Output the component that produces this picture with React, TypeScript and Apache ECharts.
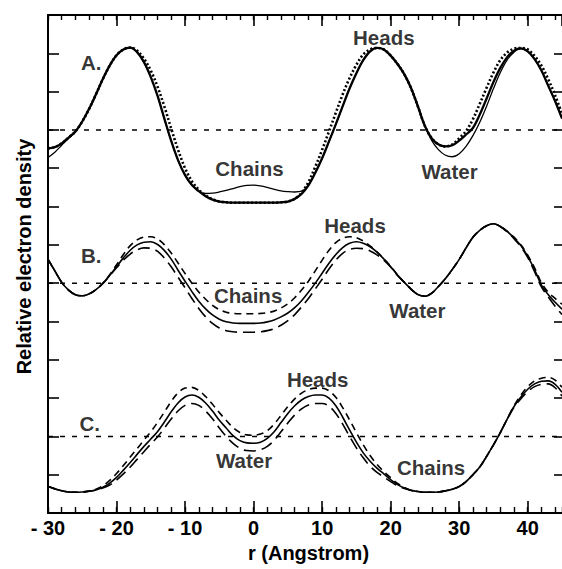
import React, { useEffect, useRef } from 'react';
import * as echarts from 'echarts';

// r sampling (Angstrom)
const R = [-30,-29,-28,-27,-26,-25,-24,-23,-22,-21,-20,-19,-18,-17,-16,-15,-14,-13,-12,-11,-10,-9,-8,-7,-6,-5,-4,-3,-2,-1,0,1,2,3,4,5,6,7,8,9,10,11,12,13,14,15,16,17,18,19,20,21,22,23,24,25,26,27,28,29,30,31,32,33,34,35,36,37,38,39,40,41,42,43,44,45];

// Panel A (baseline 10)
const A_BOLD = [9.52,9.55,9.65,9.8,9.96,10.22,10.55,10.93,11.33,11.68,11.95,12.1,12.15,12.03,11.77,11.38,10.88,10.28,9.7,9.2,8.82,8.56,8.4,8.27,8.18,8.13,8.11,8.1,8.1,8.1,8.1,8.1,8.1,8.1,8.11,8.13,8.2,8.33,8.55,8.88,9.26,9.7,10.15,10.62,11.08,11.48,11.82,12.05,12.14,12.1,11.94,11.72,11.45,11.08,10.6,10.1,9.78,9.62,9.57,9.6,9.72,9.88,10.05,10.4,10.82,11.25,11.62,11.9,12.07,12.13,12.05,11.85,11.55,11.15,10.75,10.3];
const A_THIN = [9.28,9.42,9.6,9.78,9.95,10.22,10.55,10.93,11.33,11.68,11.95,12.1,12.15,12.03,11.77,11.38,10.88,10.28,9.7,9.2,8.82,8.56,8.4,8.34,8.35,8.38,8.42,8.47,8.52,8.55,8.56,8.54,8.5,8.45,8.41,8.39,8.38,8.4,8.56,8.88,9.26,9.7,10.15,10.62,11.08,11.48,11.82,12.05,12.14,12.1,11.94,11.72,11.45,11.08,10.6,10.1,9.72,9.48,9.34,9.3,9.38,9.57,9.85,10.2,10.62,11.08,11.5,11.83,12.03,12.12,12.05,11.85,11.55,11.15,10.75,10.3];
const A_DOT = [9.52,9.55,9.65,9.8,9.96,10.22,10.55,10.93,11.33,11.68,11.95,12.1,12.15,12.07,11.86,11.55,11.12,10.6,10.02,9.47,9.0,8.66,8.44,8.29,8.19,8.13,8.11,8.1,8.1,8.1,8.1,8.1,8.1,8.1,8.11,8.13,8.2,8.36,8.64,9.04,9.48,9.96,10.45,10.93,11.35,11.7,11.97,12.1,12.14,12.1,11.94,11.72,11.45,11.08,10.6,10.1,9.78,9.62,9.57,9.62,9.78,9.97,10.28,10.68,11.1,11.5,11.82,12.02,12.12,12.14,12.1,11.93,11.68,11.32,10.9,10.42];

// Panel B (baseline 6)
const B_MID = [6.62,6.32,6.02,5.82,5.7,5.67,5.72,5.83,5.99,6.2,6.43,6.66,6.86,7.0,7.07,7.08,7.01,6.85,6.62,6.33,6.05,5.78,5.53,5.33,5.17,5.06,4.99,4.96,4.95,4.95,4.95,4.96,4.99,5.04,5.12,5.22,5.36,5.54,5.76,6.0,6.26,6.52,6.75,6.93,7.04,7.08,7.04,6.95,6.81,6.63,6.43,6.21,6.02,5.84,5.7,5.66,5.74,5.92,6.12,6.36,6.62,6.92,7.2,7.38,7.5,7.55,7.48,7.35,7.18,6.98,6.7,6.35,5.95,5.7,5.5,5.32];
const B_UP = [6.62,6.32,6.02,5.82,5.7,5.67,5.72,5.83,6.0,6.22,6.48,6.75,6.98,7.13,7.2,7.21,7.15,7.0,6.78,6.52,6.25,6.0,5.77,5.58,5.42,5.31,5.24,5.21,5.2,5.2,5.2,5.21,5.23,5.27,5.35,5.46,5.62,5.82,6.05,6.32,6.6,6.86,7.06,7.17,7.21,7.19,7.1,6.97,6.82,6.64,6.44,6.22,6.02,5.84,5.7,5.66,5.74,5.92,6.12,6.36,6.62,6.92,7.2,7.38,7.5,7.55,7.48,7.36,7.2,7.0,6.73,6.4,6.01,5.76,5.6,5.45];
const B_LOW = [6.62,6.32,6.02,5.82,5.7,5.67,5.72,5.83,5.99,6.2,6.4,6.6,6.76,6.87,6.92,6.91,6.83,6.65,6.42,6.15,5.88,5.6,5.34,5.12,4.95,4.83,4.76,4.73,4.72,4.72,4.72,4.73,4.76,4.81,4.9,5.02,5.18,5.38,5.6,5.85,6.1,6.37,6.6,6.78,6.88,6.91,6.9,6.84,6.74,6.6,6.42,6.2,6.02,5.84,5.7,5.66,5.74,5.92,6.12,6.36,6.62,6.92,7.2,7.38,7.5,7.55,7.48,7.34,7.16,6.95,6.67,6.3,5.9,5.64,5.4,5.18];

// Panel C (baseline 2)
const C_MID = [0.69,0.63,0.58,0.55,0.54,0.55,0.57,0.6,0.67,0.78,0.93,1.12,1.32,1.53,1.74,1.93,2.13,2.38,2.65,2.88,3.03,3.08,3.02,2.87,2.66,2.42,2.22,2.02,1.89,1.83,1.82,1.85,1.95,2.12,2.36,2.6,2.8,2.95,3.04,3.08,3.08,3.0,2.8,2.5,2.17,1.85,1.57,1.35,1.17,1.02,0.87,0.74,0.65,0.59,0.56,0.54,0.54,0.55,0.58,0.62,0.69,0.82,1.0,1.2,1.48,1.78,2.1,2.45,2.78,3.03,3.23,3.37,3.44,3.45,3.36,3.15];
const C_UP = [0.69,0.63,0.58,0.55,0.54,0.55,0.57,0.62,0.71,0.85,1.03,1.24,1.46,1.68,1.9,2.12,2.37,2.64,2.92,3.14,3.26,3.28,3.2,3.04,2.84,2.62,2.42,2.23,2.1,2.04,2.03,2.06,2.15,2.32,2.55,2.78,2.98,3.13,3.22,3.26,3.26,3.19,3.02,2.75,2.43,2.1,1.78,1.5,1.27,1.08,0.92,0.77,0.67,0.59,0.56,0.54,0.54,0.55,0.58,0.62,0.69,0.82,1.0,1.2,1.48,1.78,2.1,2.45,2.8,3.08,3.3,3.45,3.52,3.54,3.47,3.28];
const C_LOW = [0.69,0.63,0.58,0.55,0.54,0.55,0.57,0.6,0.65,0.73,0.86,1.02,1.2,1.4,1.6,1.8,1.99,2.22,2.46,2.67,2.81,2.86,2.81,2.66,2.46,2.22,2.0,1.82,1.69,1.63,1.62,1.65,1.74,1.9,2.12,2.35,2.56,2.72,2.82,2.86,2.86,2.79,2.6,2.32,2.0,1.7,1.44,1.22,1.06,0.94,0.82,0.71,0.64,0.59,0.56,0.54,0.54,0.55,0.58,0.62,0.69,0.82,1.0,1.2,1.48,1.78,2.1,2.45,2.76,2.98,3.17,3.3,3.36,3.37,3.27,3.05];

// Dotted reference levels
const BASELINES = [10, 6, 2];

// Annotations
const ANN_TEXT = ['A.', 'Heads', 'Chains', 'Water', 'B.', 'Heads', 'Chains', 'Water', 'C.', 'Heads', 'Water', 'Chains'];
const ANN_R = [-23.7, 19.0, -0.6, 28.6, -23.7, 14.8, -0.8, 23.9, -23.9, 9.35, -1.4, 25.9];
const ANN_V = [11.76, 12.4, 8.99, 8.91, 6.73, 7.5, 5.67, 5.28, 2.34, 3.49, 1.36, 1.19];

const X_TICKS_LABELS = (v: number) => (v < 0 ? '- ' + Math.abs(v) : String(v));

const FONT = 'Liberation Sans, Arial, Helvetica, sans-serif';

export default function App() {
  const ref = useRef<HTMLDivElement>(null);
  useEffect(() => {
    if (!ref.current) return;
    const chart = echarts.init(ref.current, undefined, { renderer: 'svg' });
    const pairs = (ys: number[]) => R.map((r, i) => [r, ys[i]]);
    const line = (ys: number[], width: number, type: any) => ({
      type: 'line',
      data: pairs(ys),
      smooth: 0.35,
      showSymbol: false,
      symbol: 'none',
      silent: true,
      lineStyle: { color: '#000', width, type, cap: 'butt' },
      z: 3,
    });
    const black = '#000';
    const baseX = {
      type: 'value', min: -30, max: 45,
      splitLine: { show: false },
      axisLabel: { show: false },
    };
    const option: any = {
      animation: false,
      backgroundColor: '#fff',
      grid: { left: 48, right: 0, top: 15, bottom: 56, containLabel: false },
      xAxis: [
        {
          ...baseX, position: 'bottom', interval: 10,
          axisLine: { show: true, onZero: false, lineStyle: { color: black, width: 2 } },
          axisTick: { show: true, inside: true, length: 12, lineStyle: { color: black, width: 1.6 } },
          axisLabel: {
            show: true, formatter: X_TICKS_LABELS, showMaxLabel: false, showMinLabel: true,
            color: black, fontSize: 20, fontWeight: 'bold', fontFamily: FONT, margin: 5,
          },
          name: 'r (Angstrom)', nameLocation: 'middle', nameGap: 27,
          nameTextStyle: { color: black, fontSize: 20, fontWeight: 'bold', fontFamily: FONT, padding: [0, 0, 0, 7] },
        },
        {
          ...baseX, position: 'bottom', interval: 2,
          axisLine: { show: false, onZero: false },
          axisTick: { show: true, inside: true, length: 6, lineStyle: { color: black, width: 1.4 } },
        },
        {
          ...baseX, position: 'top', interval: 10,
          axisLine: { show: true, onZero: false, lineStyle: { color: black, width: 2 } },
          axisTick: { show: true, inside: true, length: 11, lineStyle: { color: black, width: 1.6 } },
        },
        {
          ...baseX, position: 'top', interval: 2,
          axisLine: { show: false, onZero: false },
          axisTick: { show: true, inside: true, length: 5, lineStyle: { color: black, width: 1.4 } },
        },
      ],
      yAxis: [
        {
          type: 'value', min: 0, max: 13, interval: 1, position: 'left',
          axisLine: { show: true, onZero: false, lineStyle: { color: black, width: 2 } },
          axisTick: { show: true, inside: true, length: 11, lineStyle: { color: black, width: 1.6 } },
          axisLabel: { show: false },
          splitLine: { show: false },
          name: 'Relative electron density', nameLocation: 'middle', nameGap: 14,
          nameTextStyle: { color: black, fontSize: 20, fontWeight: 'bold', fontFamily: FONT, padding: [0, 0, 0, 15] },
        },
        {
          type: 'value', min: 0, max: 13, interval: 1, position: 'right',
          axisLine: { show: false, onZero: false },
          axisTick: { show: true, inside: true, length: 8, lineStyle: { color: black, width: 1.6 } },
          axisLabel: { show: false },
          splitLine: { show: false },
        },
      ],
      series: [
        ...BASELINES.map((b) => ({
          type: 'line', data: [[-30, b], [45, b]], showSymbol: false, symbol: 'none', silent: true,
          lineStyle: { color: black, width: 1.5, type: [5, 7] }, z: 2,
        })),
        line(A_THIN, 1.3, 'solid'),
        line(A_BOLD, 2.3, 'solid'),
        line(A_DOT, 2.6, [2, 2.2]),
        line(B_MID, 1.6, 'solid'),
        line(B_UP, 1.6, [7, 5]),
        line(B_LOW, 1.6, [12, 6]),
        line(C_MID, 1.6, 'solid'),
        line(C_UP, 1.6, [7, 5]),
        line(C_LOW, 1.6, [12, 6]),
        {
          type: 'scatter',
          silent: true,
          symbolSize: 1,
          itemStyle: { color: 'rgba(0,0,0,0)' },
          data: ANN_TEXT.map((t, i) => ({ name: t, value: [ANN_R[i], ANN_V[i]] })),
          label: {
            show: true, position: 'inside', formatter: '{b}',
            color: black, textBorderWidth: 0, fontSize: 20.5, fontWeight: 'bold', fontFamily: FONT,
          },
          z: 5,
        },
      ],
    };
    chart.setOption(option);
    return () => chart.dispose();
  }, []);
  return <div ref={ref} style={{ position: 'absolute', left: 0, top: 0, width: 562, height: 569, background: '#fff' }} />;
}
